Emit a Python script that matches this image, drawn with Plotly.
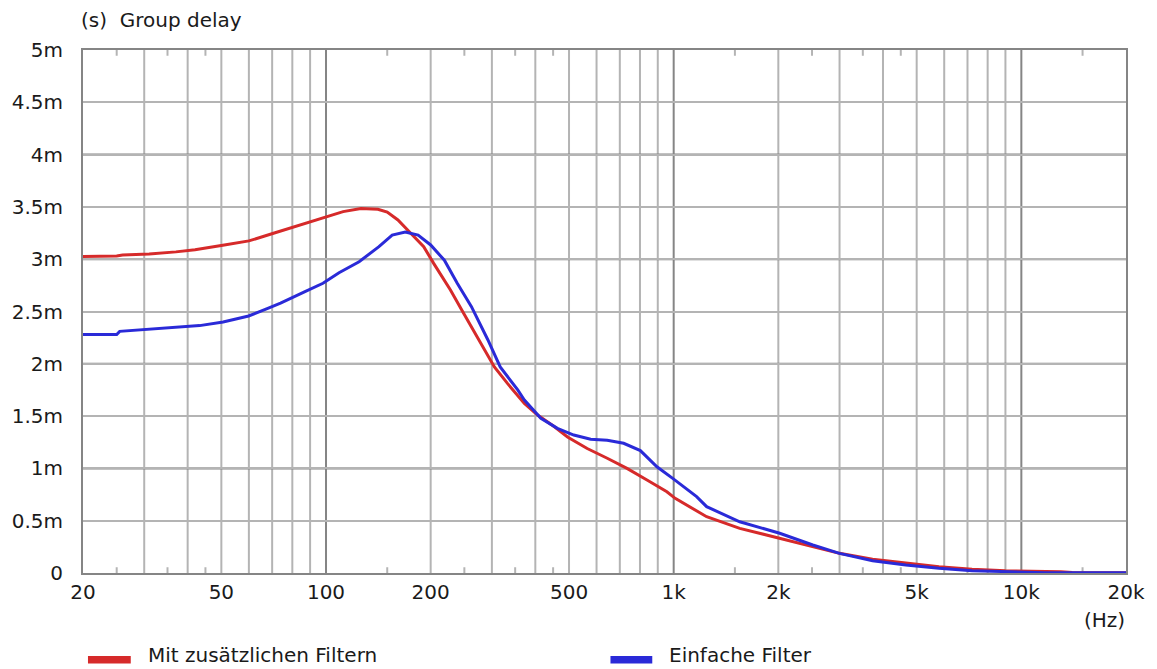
import plotly.graph_objects as go

# ---- data (Hz, seconds*1e-3) ----
red_hz = [20, 25, 26, 31, 37, 42, 51, 60, 71, 81, 98, 112, 126, 141, 150, 161, 175, 191,
          204, 228, 249, 279, 305, 333, 372, 406, 453, 495, 564, 644, 734, 838, 956, 1010,
          1244, 1549, 2018, 2513, 2998, 3734, 4652, 5796, 7214, 8993, 13000, 14000, 20000]
red_ms = [3.025, 3.03, 3.04, 3.05, 3.07, 3.09, 3.135, 3.175, 3.25, 3.31, 3.40, 3.455, 3.485,
          3.477, 3.45, 3.375, 3.25, 3.12, 2.96, 2.705, 2.48, 2.196, 1.97, 1.81, 1.62, 1.51,
          1.40, 1.30, 1.19, 1.097, 1.00, 0.889, 0.777, 0.714, 0.538, 0.427, 0.332, 0.251,
          0.188, 0.131, 0.093, 0.06, 0.035, 0.022, 0.012, 0.004, 0.003]

blue_hz = [20, 25, 25.5, 30.3, 36.6, 43.3, 50.6, 59.9, 68, 74, 87, 98, 109, 124.5, 142, 155,
           169, 184, 200, 219, 238.5, 262, 292, 317, 356, 372, 415, 463, 516, 577, 644, 718,
           802, 895, 998, 1164, 1244, 1549, 2018, 2513, 2998, 3734, 4652, 5796, 7214, 8993,
           11700, 20000]
blue_ms = [2.28, 2.28, 2.31, 2.33, 2.345, 2.365, 2.40, 2.457, 2.53, 2.58, 2.69, 2.77, 2.87,
           2.976, 3.12, 3.23, 3.26, 3.23, 3.136, 2.99, 2.77, 2.546, 2.23, 1.97, 1.75, 1.654,
           1.479, 1.383, 1.319, 1.278, 1.27, 1.24, 1.17, 1.016, 0.90, 0.73, 0.634, 0.49,
           0.38, 0.268, 0.188, 0.118, 0.076, 0.045, 0.022, 0.012, 0.003, 0.002]

series_names = ["Mit zusätzlichen Filtern", "Einfache Filter"]
series_colors = ["#d62a2a", "#2a2ad8"]

x_tick_vals = [20, 50, 100, 200, 500, 1000, 2000, 5000, 10000, 20000]
x_tick_text = ["20", "50", "100", "200", "500", "1k", "2k", "5k", "10k", "20k"]
y_tick_vals = [0, 0.5, 1, 1.5, 2, 2.5, 3, 3.5, 4, 4.5, 5]
y_tick_text = ["0", "0.5m", "1m", "1.5m", "2m", "2.5m", "3m", "3.5m", "4m", "4.5m", "5m"]

light_grid_hz = [30, 40, 50, 60, 70, 80, 90, 200, 300, 400, 500, 600, 700, 800, 900,
                 2000, 3000, 4000, 5000, 6000, 7000, 8000, 9000]
dark_grid_hz = [100, 1000, 10000]
short_tick_hz = [25, 35, 45, 150, 250, 350, 450, 1500, 2500, 3500, 4500, 15000]
dark_grid_ms = [1, 2, 3, 4]

FONT = "DejaVu Sans"
FS = 20
TXT = "#1a1a1a"
LIGHT = "#b4b4b4"
DARK = "#858585"

fig = go.Figure()
fig.add_trace(go.Scatter(x=red_hz, y=red_ms, mode="lines", name=series_names[0],
                         line=dict(color=series_colors[0], width=3), showlegend=False))
fig.add_trace(go.Scatter(x=blue_hz, y=blue_ms, mode="lines", name=series_names[1],
                         line=dict(color=series_colors[1], width=3), showlegend=False))

shapes = []
for v in light_grid_hz:
    shapes.append(dict(type="line", xref="x", yref="paper", x0=v, x1=v, y0=0, y1=1,
                       line=dict(color=LIGHT, width=2), layer="below"))
for v in dark_grid_hz:
    shapes.append(dict(type="line", xref="x", yref="paper", x0=v, x1=v, y0=0, y1=1,
                       line=dict(color=DARK, width=2), layer="below"))
for v in dark_grid_ms:
    shapes.append(dict(type="line", xref="paper", yref="y", x0=0, x1=1, y0=v, y1=v,
                       line=dict(color=DARK, width=2), layer="below"))
for v in short_tick_hz:
    shapes.append(dict(type="line", xref="x", yref="paper", x0=v, x1=v, y0=0, y1=0.011,
                       line=dict(color=LIGHT, width=2), layer="below"))
    shapes.append(dict(type="line", xref="x", yref="paper", x0=v, x1=v, y0=0.989, y1=1,
                       line=dict(color=LIGHT, width=2), layer="below"))

# manual legend swatches
PW, PH, L, T = 1048, 523, 80, 50
def px(x): return (x - L) / PW
def py(y): return (T + PH - y) / PH
sw = [(85, 128), (610, 652)]
for (a, b), c in zip(sw, series_colors):
    shapes.append(dict(type="rect", xref="paper", yref="paper", x0=px(a), x1=px(b),
                       y0=py(663.5), y1=py(656), fillcolor=c, line=dict(width=0)))

annotations = [
    dict(text="(s)\u00a0 Group delay", xref="paper", yref="paper", x=px(76), y=py(20),
         xanchor="left", yanchor="middle", showarrow=False,
         font=dict(family=FONT, size=FS, color=TXT)),
    dict(text="(Hz)", xref="paper", yref="paper", x=px(1106), y=py(620),
         xanchor="center", yanchor="middle", showarrow=False,
         font=dict(family=FONT, size=FS, color=TXT)),
]
for xt, name in zip([143, 667], series_names):
    annotations.append(dict(text=name, xref="paper", yref="paper", x=px(xt), y=py(655),
                            xanchor="left", yanchor="middle", showarrow=False,
                            font=dict(family=FONT, size=FS, color=TXT)))

fig.update_layout(
    width=1157, height=669, autosize=False,
    margin=dict(l=L, r=1157 - L - PW, t=T, b=669 - T - PH),
    paper_bgcolor="white", plot_bgcolor="white",
    font=dict(family=FONT, size=FS, color=TXT),
    shapes=shapes, annotations=annotations,
    xaxis=dict(type="log", range=[1.30103, 4.30103], tickvals=x_tick_vals,
               ticktext=x_tick_text, showgrid=False, zeroline=False, ticks="",
               showline=True, linecolor=DARK, linewidth=2, mirror=True,
               ticklabelstandoff=0),
    yaxis=dict(range=[0, 5], tickvals=y_tick_vals, ticktext=y_tick_text,
               showgrid=True, gridcolor=LIGHT, gridwidth=2, zeroline=False, ticks="",
               showline=True, linecolor=DARK, linewidth=2, mirror=True,
               ticklabelstandoff=14),
)

fig.write_html("out.html")
